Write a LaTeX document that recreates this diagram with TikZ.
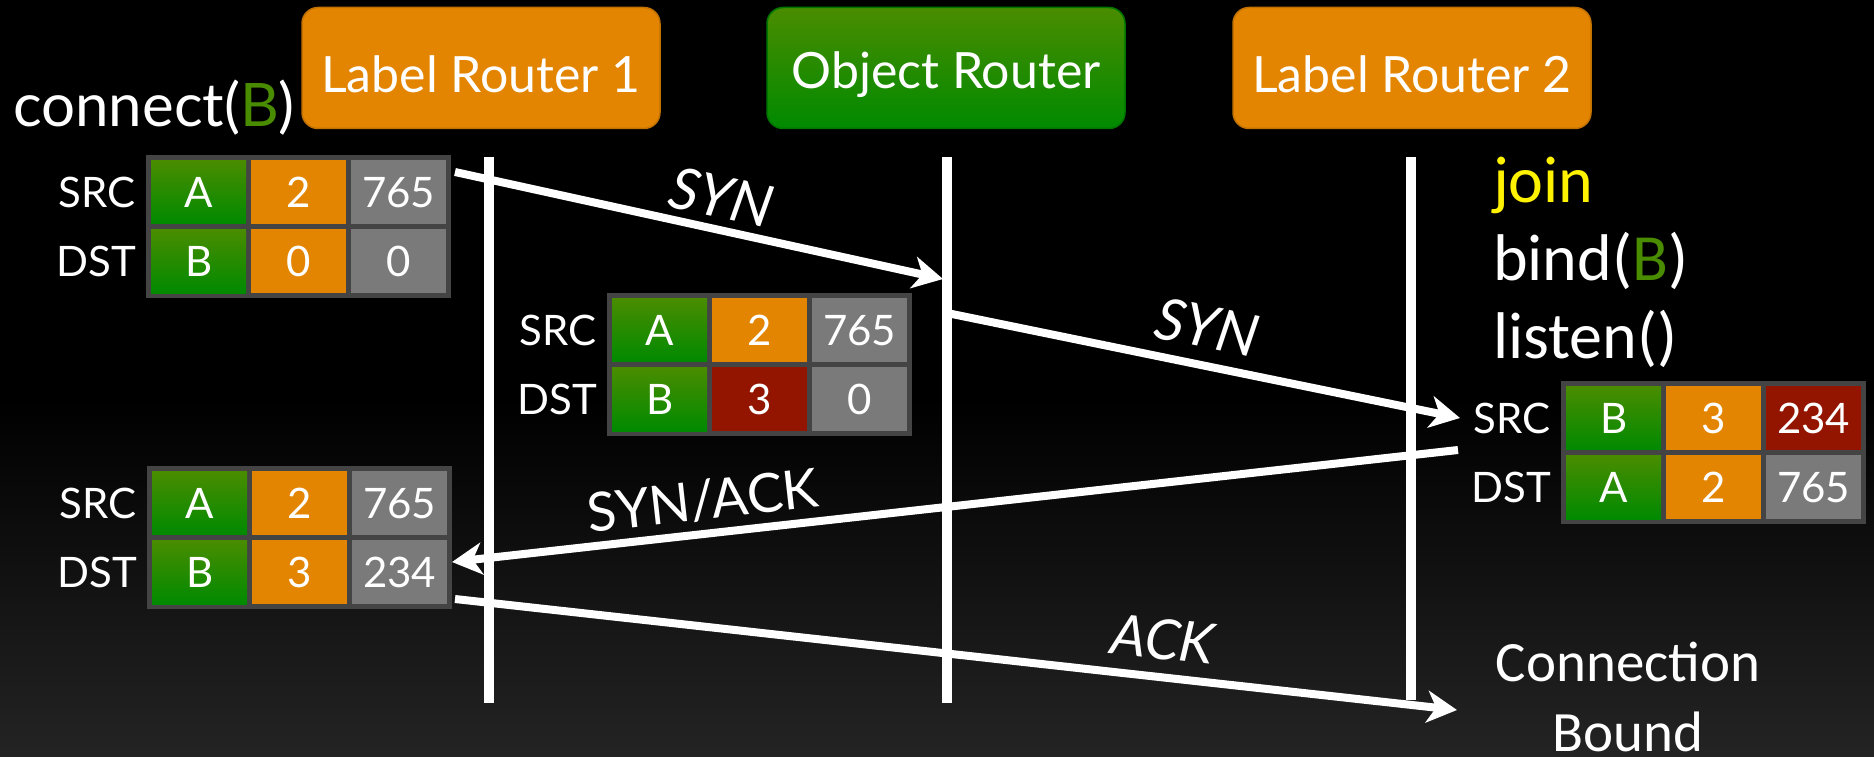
\documentclass[tikz,border=0pt]{standalone}
\usepackage{fontspec}
\setmainfont{Lato}
\newfontfamily\callfont{Carlito}
\usetikzlibrary{arrows.meta}

\definecolor{lrorange}{HTML}{E38500}
\definecolor{idtop}{HTML}{4A8C00}
\definecolor{idbot}{HTML}{008A00}
\definecolor{cellgray}{HTML}{7A7A7A}
\definecolor{cellred}{HTML}{931500}
\definecolor{tblborder}{HTML}{444444}
\definecolor{idtext}{HTML}{4A8C00}

\tikzset{
  router/.style={rounded corners=16pt, minimum width=358pt, minimum height=121pt,
    text height=50pt, text=white, font=\fontsize{50}{60}\selectfont, line width=1.5pt},
  lifeline/.style={white, line width=10pt},
  msg/.style={white, line width=8pt, -{Stealth[length=30pt,width=32pt,inset=9pt]}},
  msgtag/.style={text=white, inner sep=0pt, font=\fontsize{54}{60}\selectfont},
  tblcell/.style={anchor=north west, minimum width=95pt, minimum height=64pt,
    inner sep=0pt, text=white, font=\fontsize{42}{50}\selectfont},
  hdrtag/.style={anchor=east, text=white, inner sep=0pt, font=\fontsize{42}{50}\selectfont},
  call/.style={anchor=base west, text=white, inner sep=0pt, font=\callfont\fontsize{66}{77}\selectfont},
}

% one row of a packet header: name, x, y, tag, id, fill, label, fill, port
\newcommand{\hdrrow}[9]{%
  \fill[tblborder] (#2,#3) rectangle ++(305,74);
  \node[tblcell, top color=idtop, bottom color=idbot] (#1-id) at (#2+5,#3+5) {#5};
  \node[tblcell, fill=#6] (#1-lbl) at (#2+105,#3+5) {#7};
  \node[tblcell, fill=#8] (#1-port) at (#2+205,#3+5) {#9};
  \node[hdrtag] (#1-tag) at (#2-10,#3+37) {#4};
}

\begin{document}
\begin{tikzpicture}[x=1pt, y=-1pt]
  % Background
  \useasboundingbox (0,0) rectangle (1874,757);
  \fill[black] (0,0) rectangle (1874,757);
  \shade[top color=black, bottom color=black!86!white] (0,400) rectangle (1874,757);

  % Routers
  \node[router, fill=lrorange, draw=lrorange!85!black] (lr1) at (481,68) {Label Router 1};
  \node[router, top color=idtop, bottom color=idbot, draw=idbot!85!black] (objr) at (946,68) {Object Router};
  \node[router, fill=lrorange, draw=lrorange!85!black] (lr2) at (1412,68) {Label Router 2};

  % Lifelines
  \coordinate (lr1-top) at (489,157);
  \coordinate (lr1-end) at (489,703);
  \coordinate (objr-top) at (947,157);
  \coordinate (objr-end) at (947,703);
  \coordinate (lr2-top) at (1411,157);
  \coordinate (lr2-end) at (1411,700);
  \draw[lifeline] (lr1-top) -- (lr1-end);
  \draw[lifeline] (objr-top) -- (objr-end);
  \draw[lifeline] (lr2-top) -- (lr2-end);

  % Socket calls
  \node[anchor=base west, text=white, inner sep=0pt, font=\fontsize{60}{66}\selectfont]
    (connect) at (13,127) {connect(\textcolor{idtext}{B})};
  \node[call, text=yellow] (join) at (1493,202) {join};
  \node[call] (bind) at (1493,280) {bind(\textcolor{idtext}{B})};
  \node[call] (listen) at (1493,358) {listen()};
  \node[text=white, align=center, inner sep=0pt, font=\callfont\fontsize{57}{70}\selectfont]
    (bound) at (1628,697) {Connection\\Bound};

  % Packet headers
  \hdrrow{t1s}{146}{155}{SRC}{A}{lrorange}{2}{cellgray}{765}
  \hdrrow{t1d}{146}{224}{DST}{B}{lrorange}{0}{cellgray}{0}
  \hdrrow{t2s}{607}{293}{SRC}{A}{lrorange}{2}{cellgray}{765}
  \hdrrow{t2d}{607}{362}{DST}{B}{cellred}{3}{cellgray}{0}
  \hdrrow{t3s}{1561}{381}{SRC}{B}{lrorange}{3}{cellred}{234}
  \hdrrow{t3d}{1561}{450}{DST}{A}{lrorange}{2}{cellgray}{765}
  \hdrrow{t4s}{147}{466}{SRC}{A}{lrorange}{2}{cellgray}{765}
  \hdrrow{t4d}{147}{535}{DST}{B}{lrorange}{3}{cellgray}{234}

  % Handshake
  \coordinate (syn-a) at (455,172);
  \coordinate (syn-b) at (943,279);
  \coordinate (fwd-a) at (947,313);
  \coordinate (fwd-b) at (1460,418);
  \coordinate (synack-a) at (1458,450);
  \coordinate (synack-b) at (452,562);
  \coordinate (ack-a) at (455,599);
  \coordinate (ack-b) at (1457,710);
  \draw[msg] (syn-a) -- (syn-b);
  \draw[msg] (fwd-a) -- (fwd-b);
  \draw[msg] (synack-a) -- (synack-b);
  \draw[msg] (ack-a) -- (ack-b);

  \node[msgtag, rotate=-12.4, font=\fontsize{58}{64}\selectfont\itshape] (syn-tag) at (722,197) {SYN};
  \node[msgtag, rotate=-11.5, font=\fontsize{58}{64}\selectfont\itshape] (fwd-tag) at (1207,327) {SYN};
  \node[msgtag, rotate=6.35] (synack-tag) at (703,501) {SYN/ACK};
  \node[msgtag, rotate=-6.3, font=\fontsize{56}{62}\selectfont\itshape] (ack-tag) at (1163,639) {ACK};
\end{tikzpicture}
\end{document}
